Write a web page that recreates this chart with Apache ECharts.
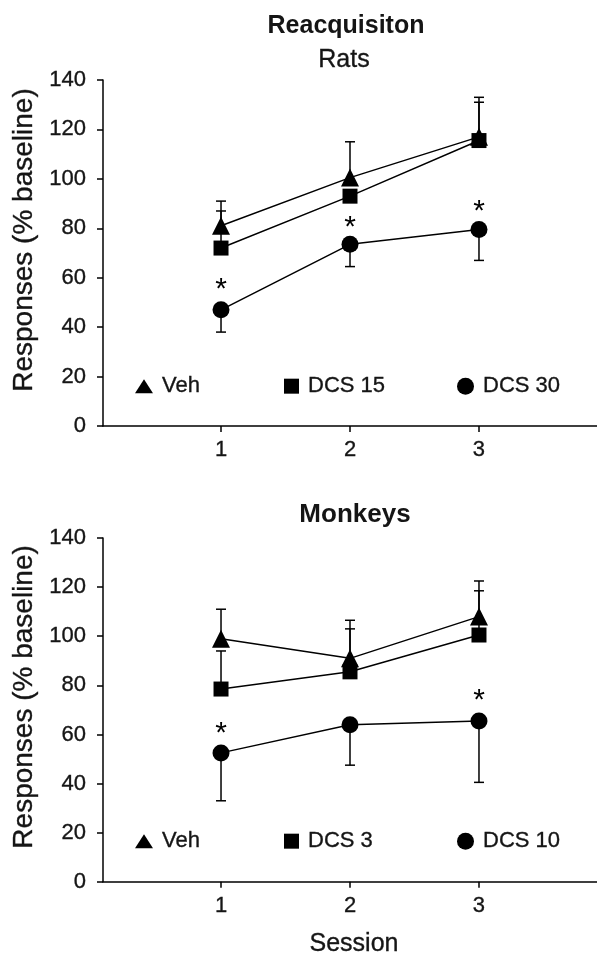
<!DOCTYPE html>
<html>
<head>
<meta charset="utf-8">
<script src="https://cdn.jsdelivr.net/npm/echarts@6/dist/echarts.min.js"></script>
<style>
  html, body { margin: 0; padding: 0; background: #fff; }
  #main { width: 597px; height: 958px; }
</style>
</head>
<body>
<div id="main"></div>
<script>
// data
var sessions = [1, 2, 3];
var yTicks = [0, 20, 40, 60, 80, 100, 120, 140];

// rats
var ratVeh = [81, 100.5, 117];
var ratVehErr = [91, 115, 133];
var ratDcs15 = [72, 93, 115.5];
var ratDcs15Err = [87, null, 131];
var ratDcs30 = [47, 73.5, 79.5];
var ratDcs30Err = [38, 64.5, 67];
var ratStars = [58, 83, 89.5];

// monkeys
var monVeh = [99, 91, 108];
var monVehErr = [111, 106.5, 122.5];
var monDcs3 = [78.5, 85.5, 100.5];
var monDcs3Err = [94, 103, 118.5];
var monDcs10 = [52.5, 64, 65.5];
var monDcs10Err = [33, 47.5, 40.5];
var monStars = [63, null, 76.5];

var FONT = "'Liberation Sans', Arial, sans-serif";
var INK = '#151515';
// scanned text looks a bit heavier than plain regular
function txt(size, extra) {
  var s = { fontSize: size, color: INK, fontFamily: FONT, textBorderColor: INK, textBorderWidth: 0.35 };
  for (var k in extra) s[k] = extra[k];
  return s;
}

var myChart = echarts.init(document.getElementById('main'));

function pts(vals) {
  return sessions.map(function (s, i) { return [s, vals[i]]; });
}
function keep(vals, extra) {
  var out = [];
  sessions.forEach(function (s, i) {
    if (vals[i] == null) return;
    out.push(extra ? [s, extra[i], vals[i]] : [s, vals[i]]);
  });
  return out;
}

function lineSeries(name, sym, size, vals, g) {
  return {
    name: name, type: 'line', xAxisIndex: g, yAxisIndex: g,
    data: pts(vals), symbol: sym, symbolSize: size,
    lineStyle: { color: '#000', width: 1.5 },
    itemStyle: { color: '#000' },
    z: 3
  };
}
function errSeries(vals, ends, g) {
  return {
    type: 'custom', xAxisIndex: g, yAxisIndex: g,
    data: keep(ends, vals), z: 2, silent: true,
    renderItem: function (params, api) {
      var p0 = api.coord([api.value(0), api.value(1)]);
      var p1 = api.coord([api.value(0), api.value(2)]);
      var st = { stroke: '#000', lineWidth: 1.5 };
      return {
        type: 'group', children: [
          { type: 'line', shape: { x1: p0[0], y1: p0[1], x2: p1[0], y2: p1[1] }, style: st },
          { type: 'line', shape: { x1: p1[0] - 5, y1: p1[1], x2: p1[0] + 5, y2: p1[1] }, style: st }
        ]
      };
    }
  };
}
function starSeries(vals, g) {
  return {
    type: 'custom', xAxisIndex: g, yAxisIndex: g,
    data: keep(vals), silent: true, z: 4,
    renderItem: function (params, api) {
      var p = api.coord([api.value(0), api.value(1)]);
      return {
        type: 'text',
        style: { x: p[0], y: p[1] + 7, text: '*', align: 'center', verticalAlign: 'middle',
          fontSize: 30, fontFamily: FONT, fill: '#000' }
      };
    }
  };
}
function legendItem(name, icon, left, top, w, h) {
  return {
    data: [{ name: name, icon: icon }], left: left, top: top,
    itemWidth: w, itemHeight: h, selectedMode: false,
    textStyle: txt(22, { padding: [0, 0, 0, 4] })
  };
}
function xAxis(g, withName) {
  var ax = {
    type: 'value', gridIndex: g, min: 0.085, max: 3.915,
    axisLine: { show: true, lineStyle: { color: '#000', width: 1.5 } },
    axisTick: { show: true, customValues: sessions, length: 6, lineStyle: { color: '#000', width: 1.5 } },
    axisLabel: Object.assign({ customValues: sessions, margin: 13 }, txt(22)),
    splitLine: { show: false }
  };
  if (withName) {
    ax.name = 'Session';
    ax.nameLocation = 'middle';
    ax.nameGap = 50;
    ax.nameTextStyle = txt(25, { padding: [0, 0, 0, 8] });
  }
  return ax;
}
function yAxis(g) {
  return {
    type: 'value', gridIndex: g, min: 0, max: 140, interval: 20,
    name: 'Responses (% baseline)', nameLocation: 'middle', nameGap: 65,
    nameTextStyle: txt(28, { padding: [0, 0, 0, 26] }),
    axisLine: { show: true, lineStyle: { color: '#000', width: 1.5 } },
    axisTick: { show: true, length: 6, lineStyle: { color: '#000', width: 1.5 } },
    axisLabel: Object.assign({ margin: 17, customValues: yTicks }, txt(22)),
    splitLine: { show: false }
  };
}

var option = {
  backgroundColor: '#fff',
  animation: false,
  title: [
    { text: 'Reacquisiton', left: 341, top: 9, textAlign: 'center',
      textStyle: { fontSize: 25, fontWeight: 'bold', color: INK, fontFamily: FONT } },
    { text: 'Rats', left: 339, top: 43, textAlign: 'center',
      textStyle: txt(25, { fontWeight: 'normal' }) },
    { text: 'Monkeys', left: 350, top: 497, textAlign: 'center',
      textStyle: { fontSize: 26, fontWeight: 'bold', color: INK, fontFamily: FONT } }
  ],
  legend: [
    legendItem('Veh', 'triangle', 130, 370, 18, 14),
    legendItem('DCS 15', 'rect', 279, 370, 15, 15),
    legendItem('DCS 30', 'circle', 452, 370, 17, 17),
    legendItem('Veh ', 'triangle', 130, 825, 18, 14),
    legendItem('DCS 3', 'rect', 279, 825, 15, 15),
    legendItem('DCS 10', 'circle', 452, 825, 17, 17)
  ],
  grid: [
    { left: 103, top: 80, width: 498, height: 346 },
    { left: 103, top: 538, width: 498, height: 347 }
  ],
  xAxis: [xAxis(0, false), xAxis(1, true)],
  yAxis: [yAxis(0), yAxis(1)],
  series: [
    errSeries(ratVeh, ratVehErr, 0),
    errSeries(ratDcs15, ratDcs15Err, 0),
    errSeries(ratDcs30, ratDcs30Err, 0),
    lineSeries('Veh', 'triangle', 18, ratVeh, 0),
    lineSeries('DCS 15', 'rect', 15, ratDcs15, 0),
    lineSeries('DCS 30', 'circle', 17, ratDcs30, 0),
    starSeries(ratStars, 0),
    errSeries(monVeh, monVehErr, 1),
    errSeries(monDcs3, monDcs3Err, 1),
    errSeries(monDcs10, monDcs10Err, 1),
    lineSeries('Veh ', 'triangle', 18, monVeh, 1),
    lineSeries('DCS 3', 'rect', 15, monDcs3, 1),
    lineSeries('DCS 10', 'circle', 17, monDcs10, 1),
    starSeries(monStars, 1)
  ]
};

myChart.setOption(option);
</script>
</body>
</html>
